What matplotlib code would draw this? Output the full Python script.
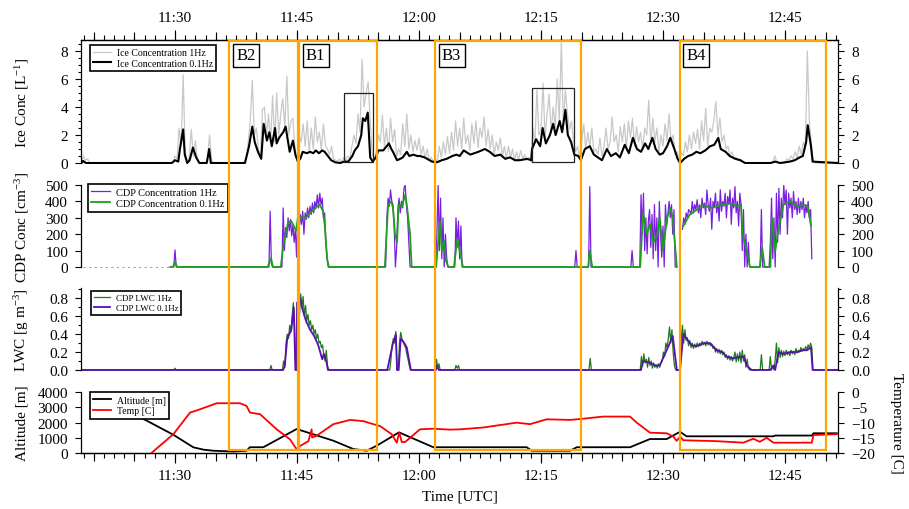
import numpy as np
import matplotlib.pyplot as plt
import matplotlib.transforms as mtransforms
from matplotlib.patches import Rectangle
from matplotlib.ticker import MultipleLocator, FuncFormatter, NullFormatter

plt.rcParams['font.family'] = ['Liberation Serif', 'DejaVu Serif']
plt.rcParams['mathtext.fontset'] = 'custom'
plt.rcParams['mathtext.rm'] = 'Liberation Serif'
plt.rcParams['mathtext.it'] = 'Liberation Serif:italic'
plt.rcParams['axes.linewidth'] = 0.9

nan = np.nan

# time axis in minutes after 11:00 UTC
t_start, t_end = 18.44, 111.52

# sampling boxes (orange) and the two zoom boxes in the ice panel
box_names = ['B2', 'B1', 'B3', 'B4']
box_t0 = [36.68, 45.25, 61.97, 92.06]
box_t1 = [45.09, 54.84, 79.92, 110.01]

zoom_t0 = [50.82, 73.9]
zoom_t1 = [54.31, 79.06]
zoom_lo = [0.05, 0.09]
zoom_hi = [5.02, 5.36]

# ---- ice concentration, 0.1 Hz ----
ice_01_t = [18.5, 18.7, 19.05, 29.6, 30.0, 30.4, 30.6, 31.0, 31.2, 31.5, 31.8, 32.2, 32.6, 33.0, 33.9, 34.2, 34.4,
            38.6, 39.1, 39.5, 39.8, 40.2, 40.6, 40.9, 41.3, 41.6, 41.9, 42.3, 42.5, 42.8, 43.3, 43.6, 43.9, 44.1,
            44.5, 44.8, 45.1, 45.4, 45.7, 46.2, 46.6, 47.0, 47.3, 47.7, 48.1, 48.4, 48.8, 49.2, 49.7, 50.3, 50.8,
            51.3, 51.8, 52.1, 52.5, 52.9, 53.1, 53.4, 53.7, 54.0, 54.3, 54.7, 55.0, 55.6, 56.3, 56.6, 56.8, 57.3,
            57.7, 58.0, 58.5, 58.8, 59.3, 59.8, 60.1, 60.7, 61.6, 62.2, 62.8, 63.4, 64.1, 64.6, 65.0, 65.5, 66.3,
            67.3, 68.1, 68.7, 69.3, 70.0, 70.6, 71.2, 71.8, 72.4, 73.3, 73.8, 73.9, 74.4, 74.9, 75.2, 75.6, 76.1,
            76.5, 76.8, 77.3, 77.6, 78.0, 78.3, 78.7, 79.1, 79.6, 79.9, 80.4, 81.0, 81.5, 82.0, 82.5, 83.1, 83.6,
            84.2, 84.7, 85.3, 85.8, 86.3, 86.8, 87.3, 87.8, 88.2, 88.7, 89.1, 89.6, 90.0, 90.5, 90.9, 91.4, 91.8,
            92.1, 92.6, 93.1, 93.6, 94.1, 94.6, 95.2, 95.8, 96.3, 96.8, 97.1, 97.7, 98.2, 98.9, 99.5, 100.1, 103.2,
            103.8, 104.4, 105.6, 106.2, 106.8, 107.2, 107.6, 107.8, 108.2, 108.4, 111.5]
ice_01_v = [0.0, 0.15, 0.0, 0.0, 0.2, 0.1, 1.0, 2.4, 0.6, 0.0, 0.2, 1.1, 0.4, 0.0, 0.0, 1.0, 0.0,
            0.0, 1.2, 2.6, 1.5, 0.8, 0.3, 2.8, 1.6, 2.2, 1.2, 2.5, 1.4, 1.8, 2.2, 2.6, 1.5, 0.8,
            1.6, 0.6, 0.1, 0.3, 0.8, 0.7, 0.8, 0.7, 0.9, 0.7, 0.9, 0.8, 0.5, 0.2, 0.05, 0.0, 0.1,
            0.1, 0.5, 0.9, 1.2, 2.0, 3.2, 3.0, 3.6, 0.4, 0.1, 0.4, 0.9, 0.9, 1.4, 1.0, 0.8, 0.2,
            0.3, 0.4, 0.8, 0.5, 0.6, 0.5, 0.5, 0.4, 0.1, 0.05, 0.2, 0.3, 0.5, 0.6, 0.5, 0.9, 0.6,
            0.8, 1.0, 0.8, 0.5, 0.6, 0.3, 0.4, 0.2, 0.2, 0.3, 0.2, 1.0, 1.7, 1.2, 2.5, 1.4, 2.0,
            2.8, 2.0, 3.0, 2.2, 3.8, 2.0, 1.5, 0.6, 0.5, 0.2, 1.0, 1.2, 0.6, 0.4, 0.2, 1.0, 0.5,
            0.7, 0.4, 1.3, 0.7, 1.8, 1.0, 0.8, 1.4, 1.0, 1.8, 1.0, 0.6, 0.7, 1.2, 1.8, 1.0, 0.3,
            0.0, 0.3, 0.5, 0.6, 0.8, 0.7, 0.9, 1.2, 1.3, 1.8, 1.0, 0.8, 0.5, 0.3, 0.2, 0.0, 0.0,
            0.1, 0.0, 0.1, 0.2, 0.4, 0.5, 1.5, 2.7, 1.2, 0.1, 0.0]

# ---- ice concentration, 1 Hz (read every 0.25 min) ----
ice_1hz_head = [0.1, 0.5, 0.2, 0.3, 0.0]                      # from 18.5
ice_1hz_a = [0, 0.5, 0.3, 2.5, 1.2, 6.3, 0.8, 0.1, 0.4, 2.4, 0.5,
             1.6, 0.2, 0, 0, 0, 0, 0.3, 2.0, 0.2, 0]            # from 29.75
ice_1hz_rows = [                                               # 39:00 .. 99:45
    [1.5, 3.0, 5.9, 2.0], [2.5, 1.0, 0.4, 3.8], [4.0, 2.0, 3.5, 1.5], [4.8, 1.5, 5.0, 2.0],
    [3.5, 4.6, 2.5, 6.2], [2.0, 3.0, 3.2, 1.0], [0.2, 2.0, 1.5, 2.8], [1.2, 3.0, 0.8, 2.5],
    [1.0, 3.3, 1.5, 2.2], [0.9, 2.8, 1.2, 1.0], [0.6, 1.2, 0.3, 0.2], [0.1, 0.3, 0.0, 0.4],
    [0.2, 0.5, 0.3, 1.2], [2.0, 1.4, 3.5, 2.2], [7.4, 4.0, 5.0, 5.8], [3.0, 0.6, 0.3, 0.8],
    [2.0, 1.5, 3.4, 1.2], [2.5, 0.8, 3.2, 1.5], [2.4, 0.5, 1.0, 0.6], [2.8, 1.2, 3.5, 1.0],
    [2.0, 0.8, 1.6, 0.9], [1.8, 0.6, 1.2, 0.3], [1.0, 0.2, 0.4, 0.1], [0.3, 0.1, 1.2, 0.4],
    [1.5, 0.6, 1.9, 0.7], [2.2, 0.9, 3.0, 1.2], [2.5, 1.0, 3.2, 1.4], [2.0, 0.9, 2.8, 1.4],
    [3.0, 1.1, 2.5, 1.8], [3.3, 1.2, 2.4, 1.0], [2.0, 0.6, 1.5, 0.9], [1.8, 0.5, 1.2, 0.3],
    [1.2, 0.4, 1.0, 0.2], [0.8, 0.2, 0.9, 0.3], [0.6, 0.2, 0.4, 0.1], [2.5, 1.4, 5.2, 2.0],
    [2.4, 5.7, 1.8, 3.5], [4.9, 2.2, 4.0, 2.5], [6.0, 3.0, 8.6, 2.8], [5.2, 3.5, 2.4, 3.0],
    [1.5, 0.8, 1.2, 0.4], [1.5, 2.8, 1.0, 2.2], [1.2, 2.5, 0.8, 1.0], [0.6, 1.8, 0.5, 1.2],
    [2.5, 1.0, 1.5, 3.3], [1.5, 2.0, 0.8, 2.6], [1.5, 2.8, 1.0, 3.0], [1.8, 3.2, 1.2, 2.6],
    [1.5, 2.2, 1.0, 2.5], [2.0, 4.5, 1.4, 3.2], [1.5, 2.5, 0.8, 2.0], [1.2, 2.8, 1.6, 3.5],
    [1.5, 2.0, 0.6, 0.8], [0.1, 0.8, 0.5, 1.5], [0.8, 2.0, 1.0, 2.2], [1.4, 2.4, 1.0, 3.0],
    [1.6, 3.9, 1.2, 2.5], [2.2, 3.0, 4.4, 2.0], [3.2, 1.5, 2.0, 1.0], [1.2, 0.5, 0.8, 0.3],
    [0.4, 0.2, 0.3, 0.1],
]
ice_1hz_tail = [0, 0.5, 0.1, 0, 0, 0, 0, 0.3, 0.2, 0.5, 0.3, 0.8,
                0.4, 1.2, 0.6, 1.5, 1.0, 8.0, 3.0, 1.2, 0.2, 0.0]  # from 103.5

# ---- CDP droplet concentration ----
cdp_01_t = [29.4, 29.75, 30.0, 30.25, 41.4, 41.8, 42.05, 43.0, 43.3, 43.5, 43.9, 44.3, 44.6, 44.9, 45.1,
            45.4, 45.7, 46.1, 46.6, 47.1, 47.5, 47.8, 48.2, 48.4, 48.7, 48.9, 55.8, 56.2, 56.6, 56.8, 57.05,
            57.3, 57.5, 57.9, 58.3, 58.5, 58.9, 59.1, 62.1, 62.3, 62.6, 62.8, 63.1, 63.3, 63.6, 64.3, 64.7,
            65.0, 65.4, 80.8, 81.0, 81.3, 87.2, 87.55, 88.0, 88.4, 88.8, 89.3, 89.6, 90.0, 90.5, 90.9, 91.2,
            91.7, 92.0, 92.5, 93.3, 94.2, 94.9, 95.8, 96.6, 97.4, 98.2, 99.1, 99.6, 99.8, 100.3, 100.7, 101.9,
            102.2, 102.5, 103.2, 103.4, 103.8, 104.1, 104.8, 105.6, 106.5, 107.2, 107.8, 108.2]
cdp_01_v = [0, 0, 30, 0, 0, 55, 0, 0, 120, 180, 270, 280, 250, 220, 300,
            290, 310, 300, 330, 350, 370, 380, 340, 260, 50, 0, 0, 380, 400, 360, 200,
            150, 380, 370, 440, 380, 200, 0, 0, 120, 280, 100, 160, 40, 0, 0, 170,
            100, 0, 0, 100, 0, 0, 330, 200, 260, 150, 200, 300, 100, 300, 360, 300,
            0, nan, 250, 320, 350, 380, 360, 370, 380, 390, 370, 380, 200, 100, 0, 0,
            120, 0, 0, 300, 100, 200, 380, 400, 370, 380, 370, 250]

# 1 Hz, read every 0.15 min: (start minute, values)
cdp_1hz_segs = [
    (29.85, [0, 104, 0]),
    (41.55, [0, 340, 20, 0]),
    (43.15, [0, 360, 100, 240, 180, 300, 220, 290, 190, 260, 150, 230, 60, 330, 220, 320, 260, 340, 200, 330,
             290, 360, 300, 370, 320, 390, 330, 400, 360, 440, 360, 450, 380, 420, 300, 330, 150, 60, 0]),
    (55.9, [0, 300, 420, 370, 470, 400, 380, 250, 0, 120, 350, 420, 330, 400, 360, 480, 500, 380, 300, 150, 0]),
    (62.05, [0, 200, 500, 100, 420, 50, 300, 0, 200, 60, 0]),
    (64.4, [0, 300, 120, 280, 50, 250, 0]),
    (79.15, [0, 100, 0]),
    (80.85, [0, 490, 0]),
    (86.05, [0, 100, 0]),
    (87.15, [0, 440, 200, 450, 100, 300, 80, 280, 350, 120, 320, 50, 380, 100, 300, 0, 400, 200, 60, 250,
             0, 380, 250, 320, 400, 300, 380, 200, 350, 0, 0]),
    (92.0, [nan]),
    (92.4, [230, 300, 260, 330, 300, 350, 340, 320, 400, 330, 380, 350, 410, 330, 380, 300, 420, 360, 390, 320,
            470, 380, 340, 420, 230, 400, 360, 450, 330, 400, 280, 470, 340, 400, 370, 450, 300, 430, 380, 470,
            260, 420, 360, 490, 330, 400, 250, 450, 380, 100, 350, 0, 200, 0, 150, 0, 0]),
    (101.95, [0, 350, 0]),
    (103.05, [0, 150, 420, 50, 300, 0, 450, 150, 480, 200, 420, 300, 500, 380, 470, 200, 450, 360, 420, 300,
              460, 350, 400, 320, 420, 330, 400, 350, 420, 300, 380, 330, 400, 300, 350, 50]),
]
cdp_pre_t = [18.7, 29.4]
cdp_pre_v = [0, 0]

# ---- CDP liquid water content ----
lwc_01_t = [18.45, 43.3, 43.5, 43.8, 44.3, 44.6, 44.8, 44.95, 45.0, 45.4, 45.6, 46.1, 46.6, 47.1, 47.6, 48.1,
            48.3, 48.6, 48.8, 56.1, 56.8, 57.15, 57.3, 57.5, 57.75, 58.2, 58.5, 59.0, 62.1, 62.2, 62.45, 87.3,
            87.55, 88.4, 89.0, 89.6, 90.1, 90.6, 91.2, 91.7, 92.1, 92.5, 92.9, 93.3, 93.7, 94.3, 95.0, 95.8,
            96.6, 97.3, 97.8, 98.7, 99.2, 99.9, 100.3, 100.9, 103.2, 103.6, 103.8, 104.2, 104.8, 105.6, 106.5,
            107.2, 107.7, 108.2, 108.4, 111.5]
lwc_01_v = [0, 0, 0.05, 0.35, 0.45, 0.7, 0.0, 0.0, 0.75, 0.8, 0.7, 0.55, 0.45, 0.38, 0.28, 0.12,
            0.18, 0.1, 0.0, 0.0, 0.3, 0.4, 0.0, 0.0, 0.35, 0.3, 0.25, 0.0, 0.0, 0.05, 0.0, 0.0,
            0.1, 0.08, 0.05, 0.05, 0.15, 0.25, 0.38, 0.0, 0.0, 0.4, 0.35, 0.3, 0.27, 0.27, 0.3, 0.3,
            0.22, 0.2, 0.15, 0.13, 0.14, 0.15, 0.05, 0.0, 0.0, 0.05, 0.0, 0.2, 0.18, 0.2, 0.2,
            0.22, 0.22, 0.25, 0.0, 0.0]

lwc_1hz_segs = [
    (18.45, [0]),
    (29.85, [0, 0.02, 0]),
    (41.65, [0, 0.05, 0]),
    (43.2, [0, 0.1, 0.03, 0.3, 0.4, 0.35, 0.5, 0.42, 0.6, 0.75, 0.5, 0.0, 0.0, 0.92, 0.6, 0.85, 0.7, 0.82,
            0.6, 0.72, 0.55, 0.62, 0.5, 0.55, 0.45, 0.5, 0.4, 0.45, 0.35, 0.4, 0.3, 0.32, 0.25, 0.28, 0.15,
            0.1, 0.22, 0.05, 0]),
    (56.4, [0, 0.12, 0.28, 0.35, 0.3, 0.43, 0.0, 0.0, 0.3, 0.42, 0.35, 0.32, 0.28, 0.25, 0.18, 0.12, 0.05, 0]),
    (62.0, [0, 0.12, 0.02, 0.07, 0.0]),
    (64.4, [0, 0.05, 0.02, 0.05, 0]),
    (80.9, [0, 0.13, 0]),
    (87.2, [0, 0.15, 0.05, 0.18, 0.08, 0.12, 0.03, 0.14, 0.05, 0.1, 0.02, 0.08, 0.03, 0.06, 0.02, 0.07,
            0.03, 0.08, 0.1, 0.2, 0.15, 0.3, 0.25, 0.35, 0.48, 0.3, 0.45, 0.2, 0.05, 0.0]),
    (92.1, [0, 0.35, 0.5, 0.3, 0.45, 0.33, 0.36, 0.27, 0.33, 0.25, 0.3, 0.24, 0.29, 0.25, 0.3, 0.26, 0.3,
            0.27, 0.32, 0.28, 0.31, 0.27, 0.32, 0.28, 0.3, 0.27, 0.29, 0.24, 0.26, 0.2, 0.24, 0.19, 0.23,
            0.18, 0.22, 0.17, 0.2, 0.14, 0.17, 0.12, 0.16, 0.11, 0.15, 0.1, 0.14, 0.2, 0.09, 0.18, 0.1, 0.2,
            0.08, 0.22, 0.1, 0.17, 0.03, 0.12, 0.02, 0.0]),
    (101.95, [0, 0.17, 0]),
    (103.05, [0, 0.15, 0.0, 0.05, 0.0, 0.12, 0.3, 0.08, 0.25, 0.14, 0.22, 0.15, 0.21, 0.16, 0.22, 0.17,
              0.2, 0.16, 0.22, 0.18, 0.21, 0.17, 0.24, 0.19, 0.22, 0.2, 0.25, 0.21, 0.24, 0.22, 0.26, 0.23,
              0.28, 0.24, 0.3, 0.25, 0.0]),
    (111.5, [0]),
]

# ---- altitude and temperature ----
alt_t = [24.5, 26.52, 29.8, 32.25, 33.5, 34.7, 37.17, 38.8, 39.2, 40.86, 44.96, 49.47, 51.93, 53.57, 54.8,
         57.54, 61.76, 73.24, 73.86, 78.57, 79.4, 85.95, 88.4, 90.46, 92.1, 92.9, 103.57, 103.8, 108.3,
         108.5, 111.37]
alt_v = [2700, 2130, 1200, 375, 220, 150, 100, 150, 380, 380, 1580, 810, 260, 150, 480,
         1360, 380, 380, 150, 150, 380, 380, 920, 920, 1400, 1100, 1100, 1150, 1150,
         1300, 1300]

temp_t = [27.1, 29.8, 31.84, 33.07, 35.13, 37.99, 38.8, 39.22, 40.45, 42.5, 44.14, 44.96, 45.37, 46.4, 46.8,
          46.85, 47.42, 49.47, 51.52, 53.15, 54.38, 55.2, 56.64, 57.26, 57.58, 57.88, 58.28, 60.12, 61.76,
          63.8, 65.04, 67.9, 72.0, 73.65, 75.7, 78.57, 80.2, 82.66, 85.95, 86.77, 88.4, 90.46, 91.27, 91.69,
          92.1, 92.5, 96.6, 99.88, 101.1, 101.9, 102.75, 103.57, 108.3, 108.5, 111.37]
temp_v = [-20, -13.8, -6.7, -5.6, -3.6, -3.6, -4.5, -6.7, -7.2, -12.2, -15.5, -18.8, -17.7, -16.1, -12.2,
          -14.9, -14.3, -10.5, -9.1, -9.5, -10.5, -11.1, -13.8, -16.6, -13.3, -16.4, -16.4, -12.2, -12.0,
          -12.3, -12.2, -11.6, -10.0, -10.5, -8.9, -9.1, -8.7, -8.0, -8.0, -10.0, -13.3, -13.5, -14.6, -16.0,
          -14.6, -15.8, -16.1, -16.6, -15.3, -16.3, -15.0, -16.6, -16.6, -14.1, -13.8]


def from_segments(segs, step):
    t, v = [], []
    for start, vals in segs:
        t.extend(start + step * np.arange(len(vals)))
        v.extend(vals)
    return np.array(t), np.array(v, dtype=float)


assert all(len(r) == 4 for r in ice_1hz_rows)
ice_1hz_t, ice_1hz_v = from_segments(
    [(18.5, ice_1hz_head), (29.75, ice_1hz_a), (38.5, [0, 0.3]),
     (39.0, sum(ice_1hz_rows, [])), (100.0, [0.0, 0.0]), (103.5, ice_1hz_tail), (111.5, [0.0])], 0.25)
cdp_1hz_t, cdp_1hz_v = from_segments(cdp_1hz_segs, 0.15)
lwc_1hz_t, lwc_1hz_v = from_segments(lwc_1hz_segs, 0.15)


def hhmm(m, pos=None):
    m = int(round(m))
    return f"{11 + m // 60}:{m % 60:02d}"


fig = plt.figure(figsize=(9.09, 5.10), dpi=100)
X0, XW = 81 / 909, 757 / 909


def band(top_px, bot_px):
    return [X0, 1 - bot_px / 510, XW, (bot_px - top_px) / 510]


ax1 = fig.add_axes(band(40.8, 165))
ax2 = fig.add_axes(band(186, 268.8))
ax3 = fig.add_axes(band(289.3, 371.7))
ax4 = fig.add_axes(band(393.3, 454))
ax4t = ax4.twinx()

TICK = 11
LAB = 11

# panel 1: ice
ax1.plot(ice_1hz_t, ice_1hz_v, color='#c8c8c8', lw=0.9, label='Ice Concentration 1Hz')
ax1.plot(ice_01_t, ice_01_v, color='black', lw=1.5, label='Ice Concentration 0.1Hz')
for a, b, lo, hi in zip(zoom_t0, zoom_t1, zoom_lo, zoom_hi):
    ax1.add_patch(Rectangle((a, lo), b - a, hi - lo, fill=False, ec='#222222', lw=0.9, zorder=4))
for name, a in zip(box_names, box_t0):
    ax1.text(a + 0.85, 7.68, name, fontsize=12, ha='left', va='center', zorder=6,
             bbox=dict(boxstyle='square,pad=0.2', fc='white', ec='black', lw=1.0))
ax1.set_ylim(-0.07, 8.8)

# panel 2: CDP concentration
ax2.plot(cdp_pre_t, cdp_pre_v, color='#b58ee8', lw=0.8, ls=(0, (2, 3)))
ax2.plot(cdp_1hz_t, cdp_1hz_v, color='#7a1fe0', lw=0.9, label='CDP Concentration 1Hz')
ax2.plot(cdp_01_t, cdp_01_v, color='#1e9e1e', lw=1.3, label='CDP Concentration 0.1Hz')
ax2.set_ylim(-5, 500)

# panel 3: LWC
ax3.plot(lwc_1hz_t, lwc_1hz_v, color='#1c7a1c', lw=0.9, label='CDP LWC 1Hz')
ax3.plot(lwc_01_t, lwc_01_v, color='#5a0fb0', lw=1.3, label='CDP LWC 0.1Hz')
ax3.set_ylim(-0.008, 0.912)

# panel 4: altitude / temperature
l_alt, = ax4.plot(alt_t, alt_v, color='black', lw=1.3, label='Altitude [m]')
l_tmp, = ax4t.plot(temp_t, temp_v, color='red', lw=1.3, label='Temp [C]')
ax4.set_ylim(0, 4000)
ax4t.set_ylim(-20, 0)

for ax in (ax1, ax2, ax3, ax4, ax4t):
    ax.set_xlim(t_start, t_end)


def style_y(ax, major, minor=None, left=True, right=True):
    ax.yaxis.set_major_locator(MultipleLocator(major))
    if minor:
        ax.yaxis.set_minor_locator(MultipleLocator(minor))
    ax.tick_params(axis='y', which='major', direction='out', length=4.3, width=0.8, labelsize=TICK, pad=5,
                   left=left, labelleft=left, right=right, labelright=right)
    ax.tick_params(axis='y', which='minor', direction='out', length=2.2, width=0.8, left=left, right=right)


style_y(ax1, 2, 0.5)
style_y(ax2, 100)
style_y(ax3, 0.2, 0.1)
style_y(ax4, 1000, right=False)
style_y(ax4t, 5, left=False)
ax3.yaxis.set_major_formatter(FuncFormatter(lambda v, p: f"{v:.1f}"))

ax1.spines['bottom'].set_visible(False)
ax1.spines['left'].set_bounds(0, 8.8)
ax1.spines['right'].set_bounds(0, 8.8)
for ax, top in ((ax2, 500), (ax3, 0.912)):
    for s in ('top', 'bottom'):
        ax.spines[s].set_visible(False)
    ax.spines['left'].set_bounds(0, top)
    ax.spines['right'].set_bounds(0, top)
    ax.tick_params(axis='x', which='both', bottom=False, top=False, labelbottom=False)
ax4.spines['top'].set_visible(False)
ax4.spines['right'].set_visible(False)
for s in ('top', 'bottom', 'left'):
    ax4t.spines[s].set_visible(False)

# time axes (top of panel 1, bottom of panel 4)
for ax, side in ((ax1, 'top'), (ax4, 'bottom')):
    ax.xaxis.set_ticks_position(side)
    ax.xaxis.set_major_locator(MultipleLocator(15))
    ax.xaxis.set_minor_locator(MultipleLocator(1.25))
    ax.xaxis.set_major_formatter(FuncFormatter(hhmm))
    ax.tick_params(axis='x', which='major', direction='out', length=7.2, width=0.8, labelsize=TICK, pad=4)
    ax.tick_params(axis='x', which='minor', direction='out', length=3.6, width=0.8)
    sec = ax.secondary_xaxis(side)
    sec.xaxis.set_major_locator(MultipleLocator(5))
    sec.xaxis.set_major_formatter(NullFormatter())
    sec.tick_params(axis='x', direction='out', length=5.5, width=0.8)
    sec.spines[side].set_linewidth(0.9)

# axis labels
ylabels = [(ax1, 'Ice Conc [L$^{-1}$]'), (ax2, 'CDP Conc [cm$^{-3}$]'),
           (ax3, 'LWC [g m$^{-3}$]'), (ax4, 'Altitude [m]')]
for ax, txt in ylabels:
    ax.set_ylabel(txt, fontsize=LAB, va='center')
    ax.yaxis.set_label_coords(-0.078, 0.5)
ax4t.set_ylabel('Temperature [C]', fontsize=LAB, rotation=270, va='center')
ax4t.yaxis.set_label_coords(1.077, 0.5)
ax4.set_xlabel('Time [UTC]', fontsize=LAB, va='center')
ax4.xaxis.set_label_coords(0.5, -0.708)

# legends
leg_kw = dict(loc='upper left', borderaxespad=0, frameon=True, fancybox=False, edgecolor='black',
              framealpha=1, handlelength=1.8, borderpad=0.35, labelspacing=0.15, handletextpad=0.6)
legs = [ax1.legend(bbox_to_anchor=(0.012, 0.958), fontsize=7, **leg_kw),
        ax2.legend(bbox_to_anchor=(0.009, 1.01), fontsize=7.5, **leg_kw),
        ax3.legend(bbox_to_anchor=(0.013, 0.971), fontsize=6.5, **leg_kw),
        ax4t.legend([l_alt, l_tmp], ['Altitude [m]', 'Temp [C]'], bbox_to_anchor=(0.012, 1.0),
                    fontsize=7, **leg_kw)]
for lg in legs:
    lg.get_frame().set_linewidth(1.2)

# orange sampling boxes spanning all panels
trans = mtransforms.blended_transform_factory(ax1.transData, fig.transFigure)
y_lo, y_hi = 1 - 451 / 510, 1 - 41.5 / 510
for a, b in zip(box_t0, box_t1):
    fig.add_artist(Rectangle((a, y_lo), b - a, y_hi - y_lo, transform=trans, fill=False,
                             ec='#FFA500', lw=1.6, zorder=5))

fig.savefig('out.png', dpi=100)
